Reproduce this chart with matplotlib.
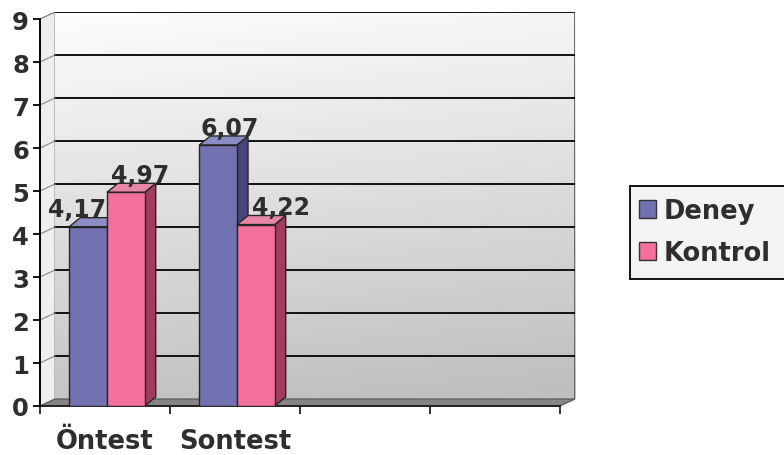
import numpy as np
import matplotlib
matplotlib.use("Agg")
import matplotlib.pyplot as plt
from matplotlib.patches import Polygon, Patch, Rectangle

categories = ["Öntest", "Sontest"]
series = ["Deney", "Kontrol"]
deney = [4.17, 6.07]
kontrol = [4.97, 4.22]
n_slots = 4          # category slots on the floor (two are empty)
y_max = 9

FRONT = {"Deney": "#7272b2", "Kontrol": "#f2709a"}
SIDE = {"Deney": "#46467c", "Kontrol": "#a23c5c"}
TOP = {"Deney": "#8c8cc4", "Kontrol": "#e886a6"}
TXT = "#2e2e2e"

# depth offsets in data units (wall and bar)
WDX, WDY = 0.115, 0.163
BDX, BDY = 0.085, 0.21
BAR_W = 0.29

plt.rcParams["font.family"] = ["DejaVu Sans"]
plt.rcParams["font.weight"] = "bold"

W, H = 784, 456
fig = plt.figure(figsize=(W / 100, H / 100), dpi=100)
fig.patch.set_facecolor("white")
ax = fig.add_axes([40 / W, 49 / H, 535 / W, 394 / H])
ax.set_xlim(0, n_slots + WDX)
ax.set_ylim(0, y_max + WDY)
ax.set_facecolor("none")
for s in ("top", "right", "bottom"):
    ax.spines[s].set_visible(False)
ax.spines["left"].set_bounds(0, y_max)
ax.spines["left"].set_linewidth(1.4)

# side wall (left) and back wall with vertical shading
side = Polygon([(0, 0), (WDX, WDY), (WDX, y_max + WDY), (0, y_max)],
               closed=True, fc="#eeeeee", ec="#9a9a9a", lw=0.8, zorder=0)
ax.add_patch(side)
grad = np.linspace(0.97, 0.75, 200)[:, None] * np.ones((1, 50))
grad = grad + np.linspace(0.02, -0.01, 50)[None, :]
ax.imshow(grad, cmap="gray", vmin=0, vmax=1, aspect="auto", origin="upper",
          extent=(WDX, n_slots + WDX, WDY, y_max + WDY), zorder=0)
ax.plot([n_slots + WDX] * 2, [WDY, y_max + WDY], color="#555555", lw=1.2, zorder=1)
ax.plot([WDX, n_slots + WDX], [y_max + WDY] * 2, color="#555555", lw=1.2, zorder=1)

# gridlines on back wall and across the side wall
for k in range(1, y_max + 1):
    ax.plot([WDX, n_slots + WDX], [k + WDY] * 2, color="#111111", lw=1.4, zorder=1)
    ax.plot([0, WDX], [k, k + WDY], color="#888888", lw=0.8, zorder=1)

# floor
floor = Polygon([(0, 0), (n_slots, 0), (n_slots + WDX, WDY), (WDX, WDY)],
                closed=True, fc="#858585", ec="#555555", lw=0.8, zorder=1)
ax.add_patch(floor)
ax.plot([0, n_slots], [0, 0], color="#222222", lw=1.4, zorder=2, clip_on=False)

x = np.arange(len(categories))
label_nudge = {("Deney", 0): -12, ("Kontrol", 0): 6, ("Deney", 1): 4, ("Kontrol", 1): 14}
for j, (name, vals) in enumerate(zip(series, [deney, kontrol])):
    left = x + 0.225 + j * BAR_W
    ax.bar(left, vals, width=BAR_W, align="edge", color=FRONT[name],
           edgecolor="#262626", linewidth=1.0, zorder=4 + j)
    for i, (l, v) in enumerate(zip(left, vals)):
        r = l + BAR_W
        ax.add_patch(Polygon([(r, 0), (r + BDX, BDY), (r + BDX, v + BDY), (r, v)],
                             closed=True, fc=SIDE[name], ec="#262626", lw=1.0,
                             zorder=3 + j))
        ax.add_patch(Polygon([(l, v), (r, v), (r + BDX, v + BDY), (l + BDX, v + BDY)],
                             closed=True, fc=TOP[name], ec="#262626", lw=1.0,
                             zorder=3 + j))
        ax.annotate(f"{v:.2f}".replace(".", ","),
                    xy=(l + (BAR_W + BDX) / 2, v + BDY),
                    xytext=(label_nudge[(name, i)], 1), textcoords="offset points",
                    ha="center", va="baseline", fontsize=17, fontweight="bold",
                    color=TXT, zorder=10)

ax.set_yticks(range(0, y_max + 1))
ax.tick_params(axis="y", length=5, width=1.3, labelsize=17.5, labelcolor=TXT, pad=3)
ax.set_xticks(range(0, n_slots + 1))
ax.set_xticklabels([])
ax.tick_params(axis="x", which="major", length=6, width=1.3, color="#222222")
ax.set_xticks(x + 0.5, minor=True)
ax.set_xticklabels(categories, minor=True)
ax.tick_params(axis="x", which="minor", length=0, labelsize=18.5, labelcolor=TXT, pad=16)

# legend box runs past the right edge of the figure
fig.patches.append(Rectangle((630 / W, 1 - 280 / H), 170 / W, 93 / H,
                             transform=fig.transFigure, fc="#f3f3f3",
                             ec="#111111", lw=1.4, zorder=1))
handles = [Patch(facecolor=FRONT[s], edgecolor="#333333", label=s) for s in series]
leg = fig.legend(handles=handles, loc="center left",
                 bbox_to_anchor=(634 / W, 1 - 233 / H),
                 fontsize=18.5, frameon=False,
                 handlelength=0.65, handleheight=0.65, handletextpad=0.3,
                 borderpad=0.2, labelspacing=0.62, borderaxespad=0)
leg.set_zorder(2)
for t in leg.get_texts():
    t.set_color(TXT)
    t.set_fontweight("bold")

fig.savefig("out.png", dpi=100)
